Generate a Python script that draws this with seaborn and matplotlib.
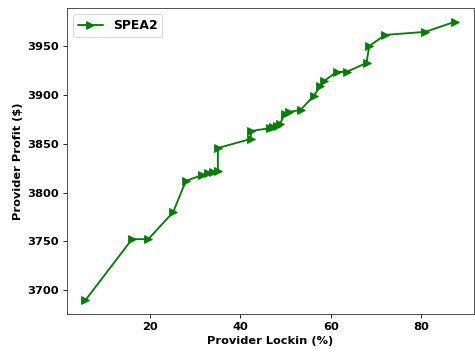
import matplotlib
matplotlib.use("Agg")
import matplotlib.pyplot as plt
import seaborn as sns
import pandas as pd

lockin = [5.67, 16.0, 19.6, 25.1, 27.9, 31.5, 32.8, 33.9, 35.0, 35.0,
          42.3, 42.3, 46.5, 47.1, 48.0, 48.7, 49.8, 50.7, 53.3, 56.2,
          57.7, 58.4, 61.3, 63.5, 67.9, 68.5, 72.0, 80.9, 87.5]
profit = [3689.7, 3752.3, 3752.3, 3780, 3811.8, 3818, 3820, 3821, 3822, 3845.6,
          3855, 3863, 3866, 3867, 3868, 3870, 3880.5, 3882.6, 3884.6, 3899,
          3909, 3914, 3923.6, 3923.6, 3932.8, 3950, 3961.5, 3964.6, 3975]
series_name = "SPEA2"

df = pd.DataFrame({"x": lockin, "y": profit, "s": series_name})

sns.set_style("ticks")
plt.rcParams['font.family'] = ['DejaVu Sans']
for k in ["text.color", "axes.labelcolor", "xtick.color", "ytick.color"]:
    plt.rcParams[k] = "black"
plt.rcParams["axes.edgecolor"] = "#333333"

fig, ax = plt.subplots(figsize=(6.4, 4.757), dpi=74.22)
sns.lineplot(data=df, x="x", y="y", sort=False, estimator=None, color="green",
             marker=">", markersize=8, markeredgecolor="green", linewidth=1.8,
             label=series_name, ax=ax)
ax.set_xlabel("Provider Lockin (%)", fontweight="bold", fontsize=11)
ax.set_ylabel("Provider Profit ($)", fontweight="bold", fontsize=11)
ax.set_xticks([20, 40, 60, 80])
ax.set_yticks([3700, 3750, 3800, 3850, 3900, 3950])
for t in ax.get_xticklabels() + ax.get_yticklabels():
    t.set_fontweight("bold")
ax.tick_params(labelsize=11, length=4)
ax.set_xlim(1.6, 91.6)
ax.set_ylim(3675.5, 3989)
leg = ax.legend(loc="upper left", prop={"weight": "bold", "size": 12})
fig.subplots_adjust(left=0.141, right=0.997, top=0.977, bottom=0.11)
fig.savefig("out.png", dpi=74.22)
